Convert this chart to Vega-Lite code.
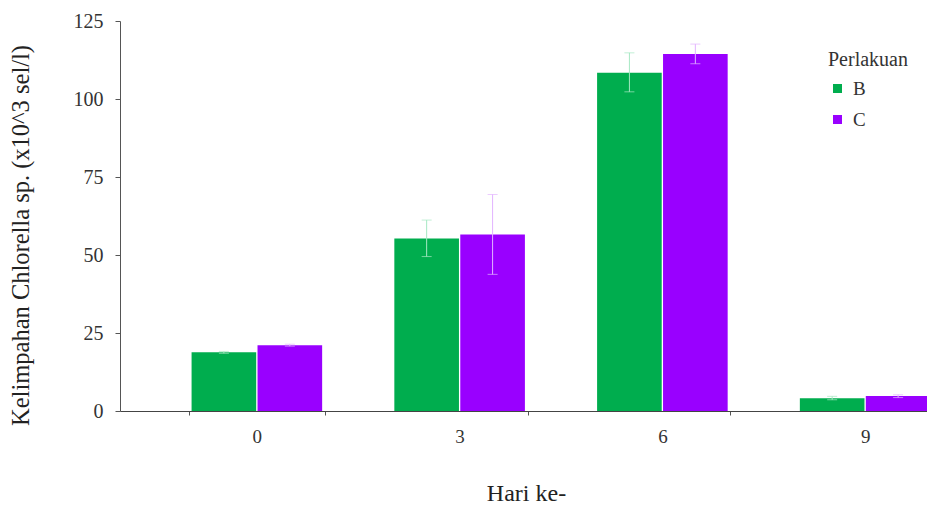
{
  "$schema": "https://vega.github.io/schema/vega-lite/v6.json",
  "autosize": {"type": "none"},
  "width": 807,
  "height": 390,
  "padding": {"left": 120, "top": 21, "right": 0, "bottom": 94},
  "background": "white",
  "config": {
    "view": {"stroke": null},
    "font": "Liberation Serif",
    "axis": {"labelFont": "Liberation Serif", "titleFont": "Liberation Serif", "titleFontWeight": "normal", "labelColor": "#333", "titleColor": "#222", "domainColor": "#555", "tickColor": "#555", "grid": false},
    "legend": {"labelFont": "Liberation Serif", "titleFont": "Liberation Serif"}
  },
  "data": {
    "values": [
      {"hari": "0", "g": "B", "v": 18.8, "lo": 18.5, "hi": 19.1},
      {"hari": "0", "g": "C", "v": 21.1, "lo": 20.8, "hi": 21.4},
      {"hari": "3", "g": "B", "v": 55.3, "lo": 49.5, "hi": 61.2},
      {"hari": "3", "g": "C", "v": 56.6, "lo": 43.8, "hi": 69.4},
      {"hari": "6", "g": "B", "v": 108.4, "lo": 102.3, "hi": 114.8},
      {"hari": "6", "g": "C", "v": 114.4, "lo": 111.3, "hi": 117.6},
      {"hari": "9", "g": "B", "v": 4.1, "lo": 3.6, "hi": 4.7},
      {"hari": "9", "g": "C", "v": 4.8, "lo": 4.3, "hi": 5.2}
    ]
  },
  "encoding": {
    "x": {
      "field": "hari", "type": "ordinal", "sort": ["0", "3", "6", "9"],
      "scale": {"range": [0, 882], "paddingInner": 0.33, "paddingOuter": 0.34},
      "axis": {
        "title": "Hari ke-", "titleFontSize": 24, "titleX": 406, "titleY": 70, "titleAlign": "center",
        "labelAngle": 0, "labelFontSize": 19, "labelPadding": 12, "tickSize": 4, "tickBand": "extent",
        "domainColor": "#444"
      }
    },
    "xOffset": {"field": "g", "type": "nominal", "scale": {"paddingInner": 0.02, "paddingOuter": 0.04}}
  },
  "layer": [
    {
      "mark": {"type": "bar"},
      "encoding": {
        "y": {
          "field": "v", "type": "quantitative",
          "scale": {"domain": [0, 125], "nice": false},
          "axis": {
            "values": [0, 25, 50, 75, 100, 125],
            "title": "Kelimpahan Chlorella sp. (x10^3 sel/l)", "titleFontSize": 24.5,
            "titleX": -92, "titleY": 214, "titleBaseline": "alphabetic", "titleAngle": -90, "titleAlign": "center",
            "labelFontSize": 20, "labelPadding": 12, "tickSize": 5
          }
        },
        "color": {
          "field": "g", "type": "nominal",
          "scale": {"domain": ["B", "C"], "range": ["#00AD4E", "#9900FF"]},
          "legend": {
            "title": "Perlakuan", "orient": "none", "legendX": 708, "legendY": 29,
            "titleFontSize": 20, "titleFontWeight": "normal", "titleColor": "#333", "titlePadding": 9,
            "labelFontSize": 19, "labelColor": "#333", "symbolType": "square", "symbolSize": 81,
            "symbolStrokeWidth": 0, "rowPadding": 11, "labelOffset": 6
          }
        }
      }
    },
    {
      "mark": {"type": "rule", "strokeWidth": 1},
      "encoding": {
        "y": {"field": "lo", "type": "quantitative"},
        "y2": {"field": "hi"},
        "color": {"field": "g", "type": "nominal", "scale": {"domain": ["B", "C"], "range": ["#a6e8c3", "#e2b3ff"]}, "legend": null}
      }
    },
    {
      "mark": {"type": "tick", "thickness": 1, "size": 10},
      "encoding": {
        "y": {"field": "lo", "type": "quantitative"},
        "color": {"field": "g", "type": "nominal", "scale": {"domain": ["B", "C"], "range": ["#a6e8c3", "#e2b3ff"]}, "legend": null}
      }
    },
    {
      "mark": {"type": "tick", "thickness": 1, "size": 10},
      "encoding": {
        "y": {"field": "hi", "type": "quantitative"},
        "color": {"field": "g", "type": "nominal", "scale": {"domain": ["B", "C"], "range": ["#a6e8c3", "#e2b3ff"]}, "legend": null}
      }
    }
  ],
  "resolve": {"scale": {"color": "independent"}}
}
